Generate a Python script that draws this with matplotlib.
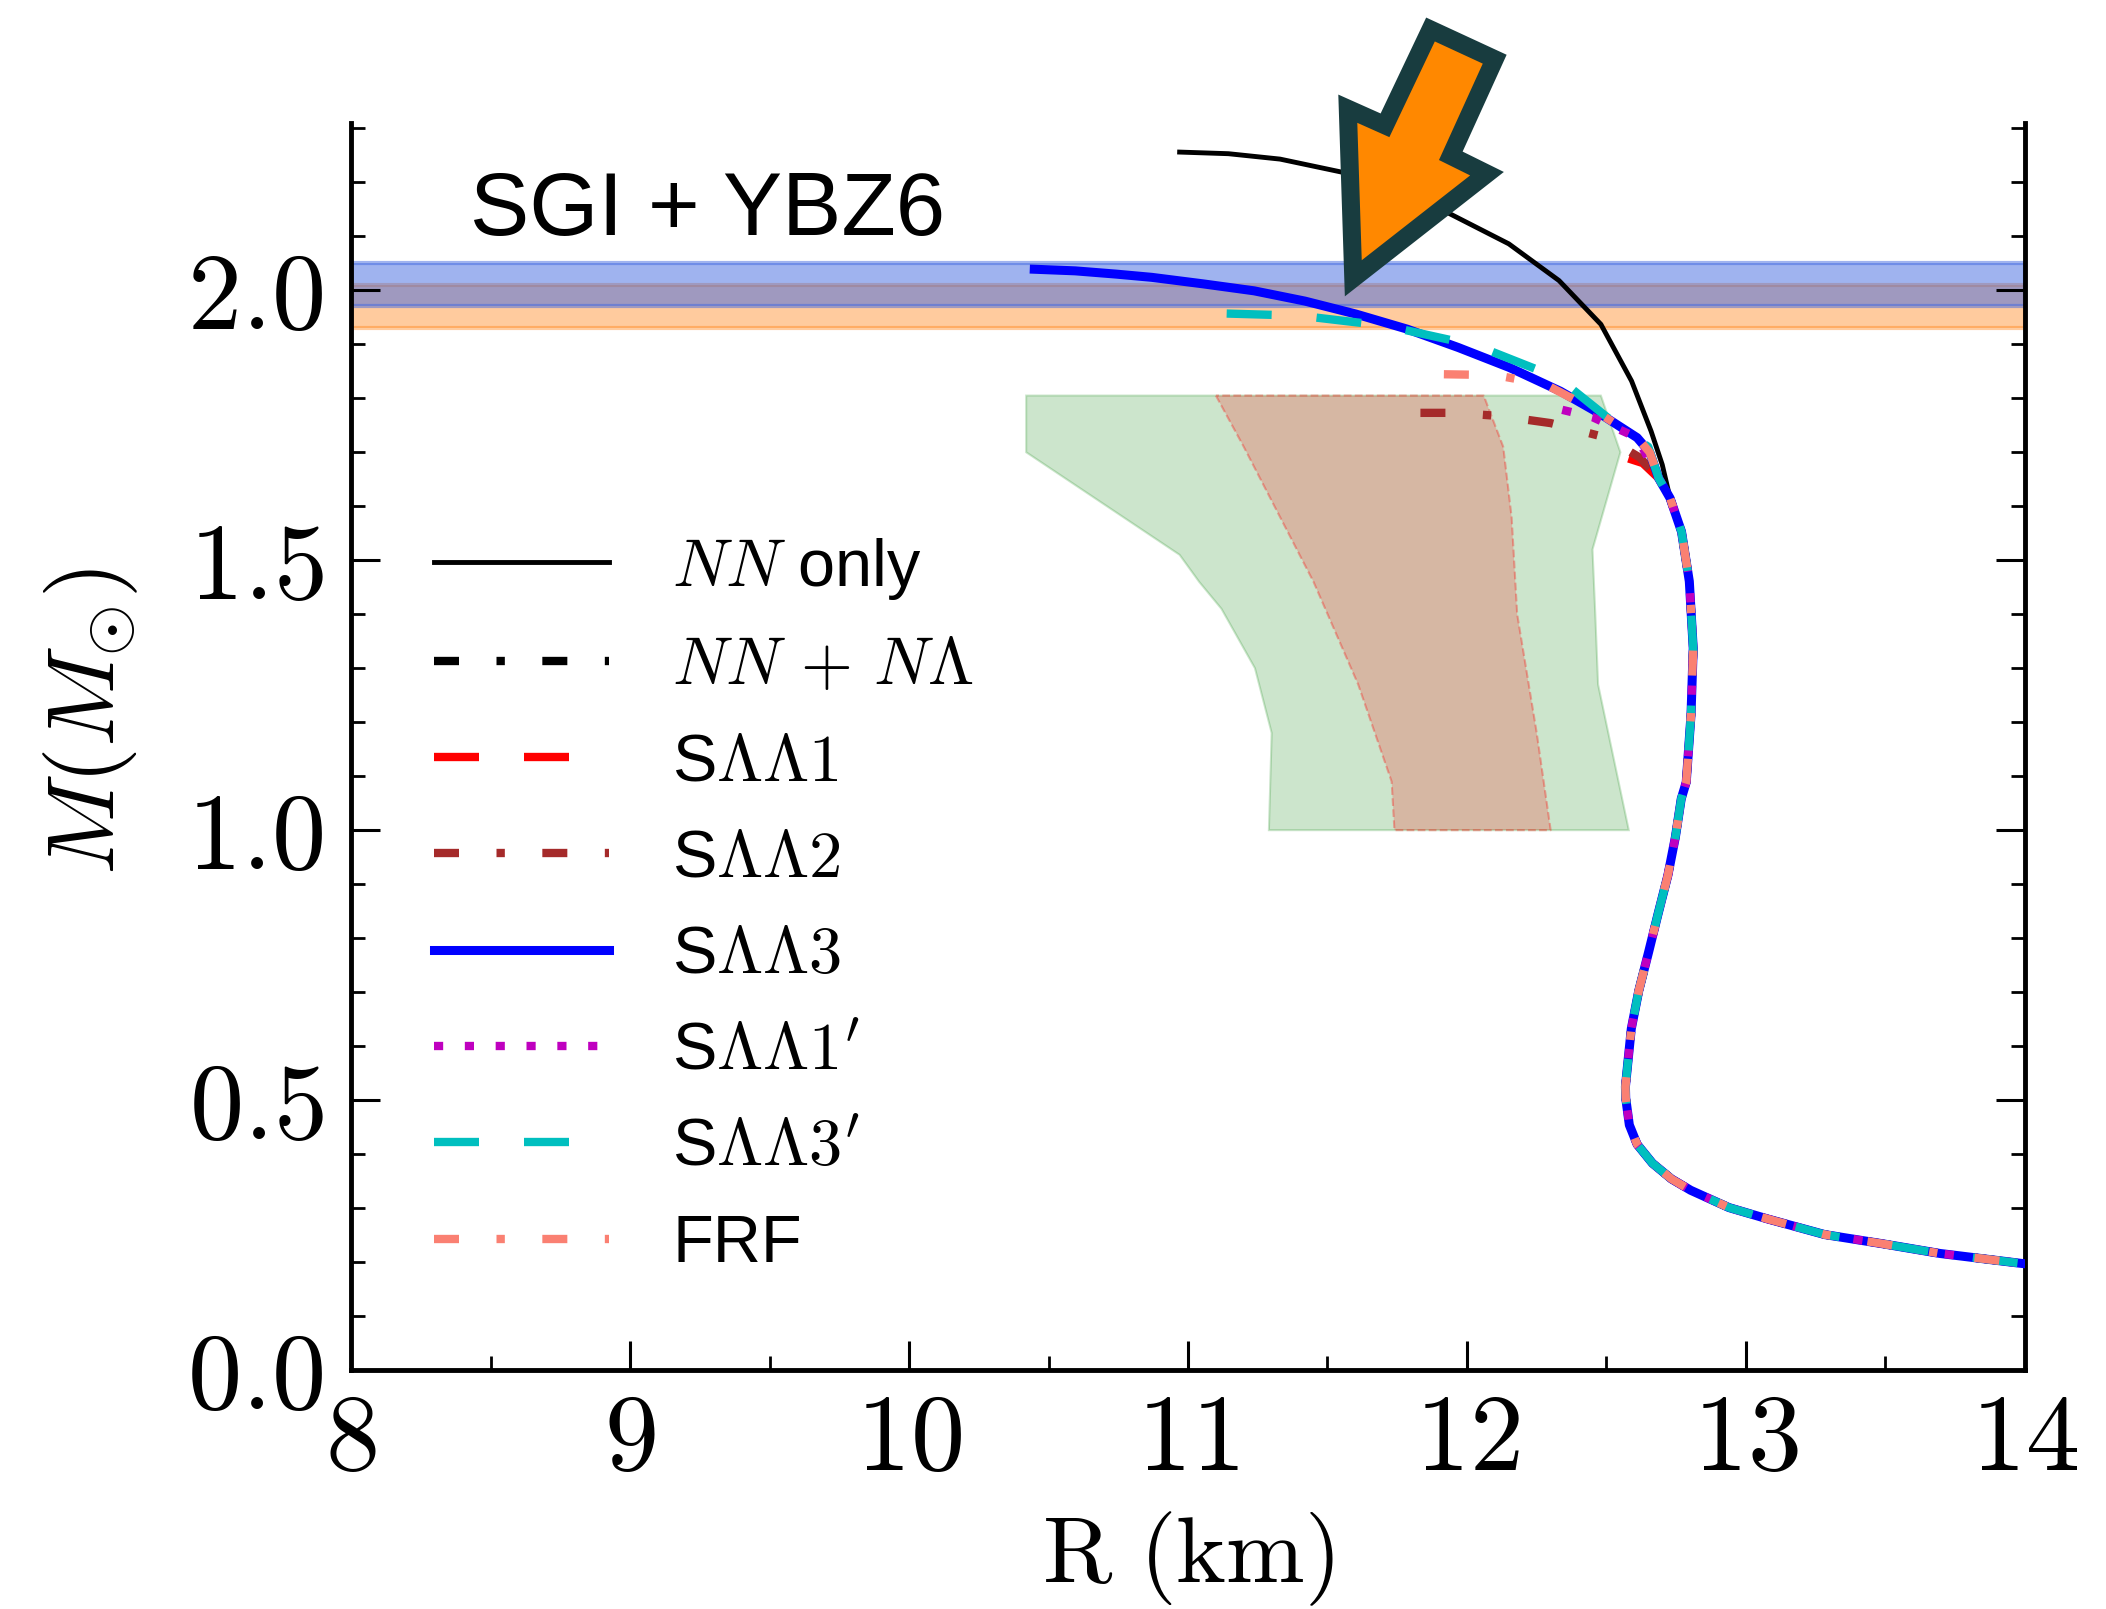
import numpy as np
import matplotlib
matplotlib.use('Agg')
import matplotlib.pyplot as plt
from matplotlib.patches import Polygon
from matplotlib.ticker import MultipleLocator, FuncFormatter

plt.rcParams['mathtext.fontset'] = 'cm'
plt.rcParams['font.family'] = ['Liberation Sans', 'DejaVu Sans']

# shared low-mass branch of the M-R relation (R in km, M in solar masses)
r_core = [14.30, 13.98, 13.695, 13.489, 13.282, 13.077, 12.939, 12.802, 12.733, 12.665,
          12.610, 12.582, 12.569, 12.568, 12.575, 12.589, 12.616, 12.651, 12.685, 12.720,
          12.747, 12.768, 12.786, 12.803, 12.811, 12.797, 12.769, 12.728, 12.687]
m_core = [0.180, 0.198, 0.216, 0.234, 0.251, 0.280, 0.301, 0.333, 0.354, 0.383,
          0.418, 0.454, 0.504, 0.525, 0.561, 0.632, 0.703, 0.774, 0.845, 0.916,
          0.987, 1.058, 1.089, 1.213, 1.337, 1.461, 1.553, 1.615, 1.652]

# high-mass branches for each interaction
r_nn = [12.70, 12.66, 12.59, 12.48, 12.33, 12.15, 11.93, 11.55, 11.33, 11.145, 10.97]
m_nn = [1.677, 1.739, 1.832, 1.937, 2.018, 2.086, 2.144, 2.219, 2.243, 2.253, 2.256]
r_nnl = [12.66]
m_nnl = [1.67]
r_s1 = [12.63, 12.57]
m_s1 = [1.68, 1.69]
r_s2 = [12.62, 12.50, 12.30, 12.12, 11.96, 11.70]
m_s2 = [1.69, 1.727, 1.754, 1.767, 1.773, 1.773]
r_s3 = [12.655, 12.61, 12.481, 12.335, 12.152, 11.969, 11.786, 11.602, 11.419,
        11.237, 11.053, 10.870, 10.742, 10.596, 10.449]
m_s3 = [1.700, 1.727, 1.770, 1.813, 1.857, 1.894, 1.928, 1.956, 1.980,
        1.999, 2.012, 2.024, 2.030, 2.036, 2.039]
r_s1p = [12.61, 12.45, 12.33]
m_s1p = [1.727, 1.765, 1.780]
r_s3p = [12.65, 12.536, 12.326, 12.037, 11.712, 11.401, 11.00]
m_s3p = [1.710, 1.751, 1.838, 1.897, 1.934, 1.953, 1.959]
r_frf = [12.655, 12.61, 12.45, 12.28, 12.10, 11.85]
m_frf = [1.700, 1.727, 1.780, 1.826, 1.843, 1.845]

# observational mass bands
band_blue = (1.97, 2.05)
band_orange = (1.93, 2.01)

# radius constraint regions
green_r = [10.42, 10.42, 10.97, 11.04, 11.12, 11.24, 11.30, 11.29,
           12.58, 12.47, 12.46, 12.45, 12.55, 12.48]
green_m = [1.805, 1.70, 1.51, 1.46, 1.41, 1.30, 1.18, 1.00,
           1.00, 1.27, 1.40, 1.52, 1.70, 1.805]
brown_r = [11.10, 11.20, 11.45, 11.61, 11.73, 11.74,
           12.30, 12.25, 12.18, 12.16, 12.13, 12.06]
brown_m = [1.805, 1.71, 1.46, 1.27, 1.09, 1.00,
           1.00, 1.18, 1.40, 1.58, 1.71, 1.805]

x_major = [8, 9, 10, 11, 12, 13, 14]
y_major = [0.0, 0.5, 1.0, 1.5, 2.0]

fig = plt.figure(figsize=(21.06, 16.09), dpi=100)
ax = fig.add_axes([0.1667, 0.1485, 0.7948, 0.7751])

ax.axhspan(*band_orange, facecolor='C1', edgecolor='C1', alpha=0.4, lw=3, zorder=1)
ax.axhspan(*band_blue, facecolor='royalblue', edgecolor='royalblue', alpha=0.5, lw=3, zorder=1)

ax.fill(green_r, green_m, facecolor='g', alpha=0.2, edgecolor='g', lw=1.5, zorder=1)
ax.fill(brown_r, brown_m, facecolor='r', alpha=0.2, zorder=1)
ax.plot(brown_r + brown_r[:1], brown_m + brown_m[:1], color='r', alpha=0.3, lw=1.5,
        ls='--', zorder=1)


def branch(r_up, m_up, keep_last=True):
    rr = r_core if keep_last else r_core[:-1]
    mm = m_core if keep_last else m_core[:-1]
    return np.array(rr + r_up), np.array(mm + m_up)


dashdot = [3.0, 4.5, 1.0, 4.5]

r, m = branch(r_nn, m_nn, keep_last=False)
ax.plot(r, m, color='k', lw=3.5, label=r'$NN$ only', zorder=3)
r, m = branch(r_nnl, m_nnl)
ax.plot(r, m, color='k', lw=6, dashes=dashdot, label=r'$NN\,+\,N\Lambda$', zorder=3)
r, m = branch(r_s1, m_s1)
ax.plot(r, m, color='r', lw=6, dashes=[5.4, 5.4], label=r'S$\Lambda\Lambda1$', zorder=3)
r, m = branch(r_s2, m_s2)
ax.plot(r, m, color='brown', lw=6, dashes=dashdot, label=r'S$\Lambda\Lambda2$', zorder=3)
r, m = branch(r_s3, m_s3)
ax.plot(r, m, color='b', lw=6.5, label=r'S$\Lambda\Lambda3$', zorder=3)
r, m = branch(r_s1p, m_s1p)
ax.plot(r, m, color='m', lw=6, dashes=[1.1, 2.6], label=r"S$\Lambda\Lambda1'$", zorder=3)
r, m = branch(r_s3p, m_s3p)
ax.plot(r, m, color='c', lw=6, dashes=[5.4, 5.4], label=r"S$\Lambda\Lambda3'$", zorder=3)
r, m = branch(r_frf, m_frf)
ax.plot(r, m, color='salmon', lw=6, dashes=dashdot, label='FRF', zorder=3)

ax.set_xlim(8, 14)
ax.set_ylim(0, 2.31)
ax.set_xticks(x_major)
ax.set_yticks(y_major)
ax.xaxis.set_minor_locator(MultipleLocator(0.5))
ax.yaxis.set_minor_locator(MultipleLocator(0.1))
ax.xaxis.set_major_formatter(FuncFormatter(lambda v, p: r'$%d$' % v))
ax.yaxis.set_major_formatter(FuncFormatter(lambda v, p: r'$%.1f$' % v))

ax.tick_params(which='both', direction='in', top=False, right=True)
ax.tick_params(which='major', length=21, width=2.2, labelsize=78)
ax.tick_params(which='minor', length=10, width=2.0)
ax.tick_params(axis='y', which='major', pad=20)
ax.tick_params(axis='x', which='major', pad=16)
ax.spines['top'].set_visible(False)
for side in ['left', 'right', 'bottom']:
    ax.spines[side].set_linewidth(3.5)

ax.set_xlabel(r'$\mathrm{R\ (km)}$', fontsize=68)
ax.set_ylabel(r'$M(M_{\odot})$', fontsize=68)
ax.xaxis.set_label_coords(0.5, -0.112)
ax.yaxis.set_label_coords(-0.126, 0.52)

ax.text(0.071, 0.91, 'SGI + YBZ6', transform=ax.transAxes, fontsize=64,
        ha='left', va='baseline')

ax.legend(loc='upper left', bbox_to_anchor=(0.0496, 0.669), fontsize=48,
          frameon=False, borderpad=0, borderaxespad=0, handlelength=2.62,
          handletextpad=0.95, labelspacing=0.515)

# pointer arrow drawn over the figure, vertices in pixels from the top-left corner
arrow_px = [(1430.5, 29.5), (1494.7, 59.2), (1450.8, 155.8), (1487.0, 173.7),
            (1353.3, 278.3), (1347.8, 108.7), (1385.0, 125.3)]
W, H = 2106, 1609
arrow = Polygon([(x / W, 1 - y / H) for x, y in arrow_px], closed=True,
                facecolor='#ff8800', edgecolor='#183c3f', lw=13, joinstyle='miter',
                transform=fig.transFigure, zorder=10, clip_on=False)
fig.patches.append(arrow)

fig.savefig('out.png', dpi=100)
